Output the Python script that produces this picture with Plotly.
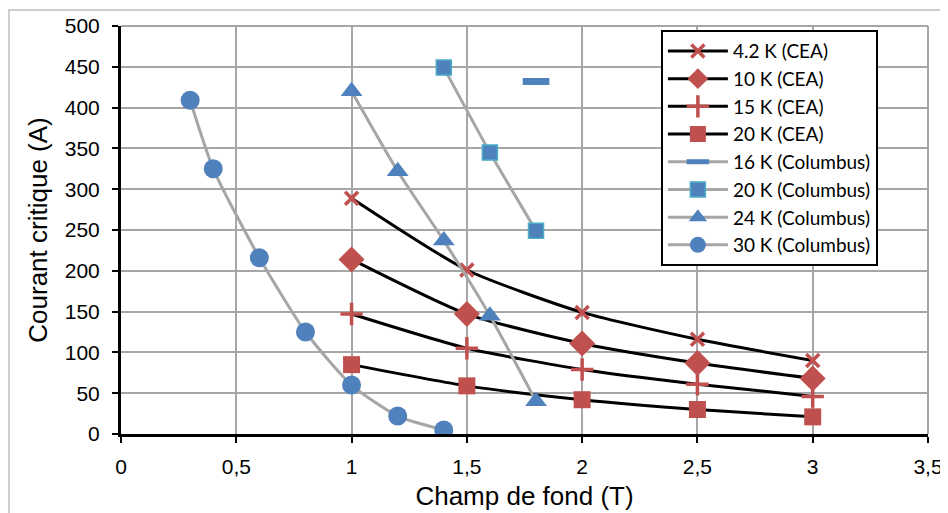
import plotly.graph_objects as go

# ---- data ----
cea_x = [1.0, 1.5, 2.0, 2.5, 3.0]
cea_4k2 = [289, 201, 149, 116, 90]
cea_10k = [214, 147, 111, 87, 68]
cea_15k = [147, 105, 79, 61, 46]
cea_20k = [85, 59, 42, 30, 21]

col16_x = [1.8]
col16_y = [432]
col20_x = [1.4, 1.6, 1.8]
col20_y = [449, 345, 249]
col24_x = [1.0, 1.2, 1.4, 1.6, 1.8]
col24_y = [420, 322, 237, 145, 40]
col30_x = [0.3, 0.4, 0.6, 0.8, 1.0, 1.2, 1.4]
col30_y = [409, 325, 216, 125, 60, 22, 5]

x_tickvals = [0, 0.5, 1, 1.5, 2, 2.5, 3, 3.5]
x_ticktext = ["0", "0,5", "1", "1,5", "2", "2,5", "3", "3,5"]
y_tickvals = [0, 50, 100, 150, 200, 250, 300, 350, 400, 450, 500]

RED = "#C0504D"
BLUE = "#4F81BD"
TEAL = "#4BACC6"
GRAY = "#A6A6A6"
FONT = "Liberation Sans, Arial, sans-serif"

fig = go.Figure()

def add(name, x, y, lcolor, marker):
    fig.add_trace(go.Scatter(
        x=x, y=y, name=name, mode="lines+markers",
        line=dict(color=lcolor, width=3, shape="spline", smoothing=0.6),
        marker=marker,
    ))

add("4.2 K (CEA)", cea_x, cea_4k2, "black",
    dict(symbol="x-thin-open", size=13, color=RED, line=dict(color=RED, width=3.5)))
add("10 K (CEA)", cea_x, cea_10k, "black",
    dict(symbol="diamond", size=20, color=RED, line=dict(width=0)))
add("15 K (CEA)", cea_x, cea_15k, "black",
    dict(symbol="cross-thin-open", size=16, color=RED, line=dict(color=RED, width=3.5)))
add("20 K (CEA)", cea_x, cea_20k, "black",
    dict(symbol="square", size=17, color=RED, line=dict(width=0)))
add("16 K (Columbus)", col16_x, col16_y, GRAY,
    dict(symbol="line-ew-open", size=19, color=BLUE, line=dict(color=BLUE, width=7)))
add("20 K (Columbus)", col20_x, col20_y, GRAY,
    dict(symbol="square", size=15, color=BLUE, line=dict(color=TEAL, width=1.5)))
add("24 K (Columbus)", col24_x, col24_y, GRAY,
    dict(symbol="triangle-up", size=19, color=BLUE, line=dict(width=0)))
add("30 K (Columbus)", col30_x, col30_y, GRAY,
    dict(symbol="circle", size=19, color=BLUE, line=dict(width=0)))

tick_font = dict(family=FONT, size=21, color="black")
title_font = dict(family=FONT, size=26, color="black")

# page body adds an 8px offset; margins compensate so the plot area sits at
# x 121..928, y 26..434 in the window
fig.update_layout(
    width=940, height=505,
    margin=dict(l=113, r=20, t=18, b=79),
    paper_bgcolor="white", plot_bgcolor="white",
    showlegend=True,
    legend=dict(
        x=0.669, y=0.99, xanchor="left", yanchor="top",
        bgcolor="white", bordercolor="black", borderwidth=2,
        font=dict(family="Lato, Open Sans, sans-serif", size=19, color="black"),
        tracegroupgap=0, itemwidth=60,
    ),
    xaxis=dict(
        range=[0, 3.5], tickvals=x_tickvals, ticktext=x_ticktext,
        showgrid=True, gridcolor=GRAY, gridwidth=1.5,
        showline=True, linecolor="black", linewidth=3,
        ticks="outside", ticklen=6, tickwidth=2, tickcolor="black",
        tickfont=tick_font, zeroline=False, automargin=False,
        ticklabelstandoff=6,
        title=dict(text="Champ de fond (T)", font=title_font, standoff=10),
    ),
    yaxis=dict(
        range=[0, 500], tickvals=y_tickvals,
        showgrid=True, gridcolor=GRAY, gridwidth=1.5,
        showline=True, linecolor="black", linewidth=3,
        ticks="outside", ticklen=6, tickwidth=2, tickcolor="black",
        tickfont=tick_font, zeroline=False, automargin=False,
        ticklabelstandoff=8,
        title=dict(text="Courant critique (A)", font=title_font, standoff=10),
    ),
    shapes=[
        dict(type="rect", xref="paper", yref="paper",
             x0=-0.1388, x1=1.0235, y0=-0.3, y1=1.0392,
             line=dict(color="#BFBFBF", width=1.5), fillcolor="rgba(0,0,0,0)", layer="below"),
        dict(type="line", xref="paper", yref="paper", x0=0, x1=1, y0=1, y1=1,
             line=dict(color=GRAY, width=2)),
        dict(type="line", xref="paper", yref="paper", x0=1, x1=1, y0=0, y1=1,
             line=dict(color=GRAY, width=2)),
    ],
)

fig.write_html("out.html")
